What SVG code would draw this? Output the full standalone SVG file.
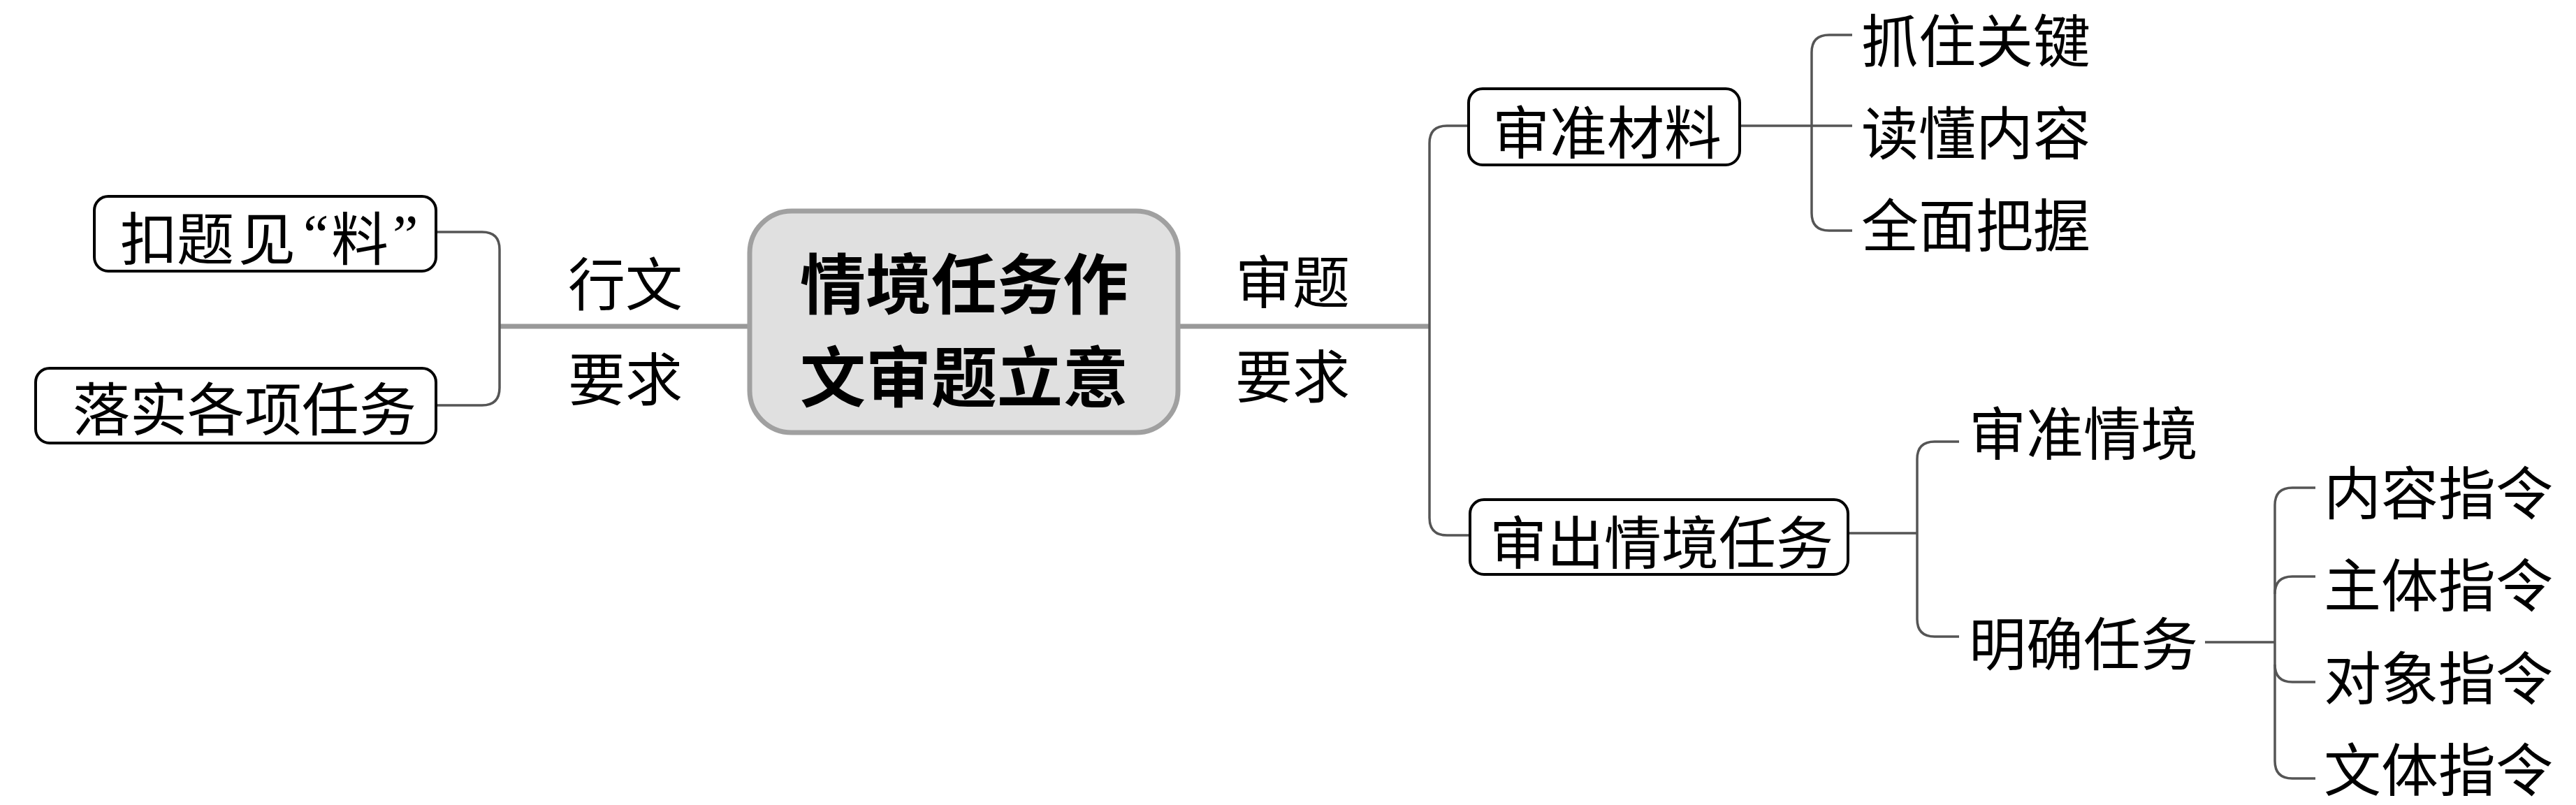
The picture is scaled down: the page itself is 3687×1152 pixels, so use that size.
<svg xmlns="http://www.w3.org/2000/svg" width="3687" height="1152" viewBox="0 0 3687 1152">
<style>
.t{font-family:"Noto Sans CJK SC","Noto Sans CJK JP",sans-serif;font-size:82px;fill:#000;dominant-baseline:central}
.m{text-anchor:middle}
.q{font-family:"Liberation Serif",serif}
.c{font-family:"Noto Sans CJK SC","Noto Sans CJK JP",sans-serif;font-size:94px;font-weight:bold;fill:#000;text-anchor:middle;dominant-baseline:central}
.box{fill:#fff;stroke:#000;stroke-width:4}
.br{fill:none;stroke:#555;stroke-width:3.5}
.main{fill:none;stroke:#999;stroke-width:7}
</style>
<rect width="3687" height="1152" fill="#fff"/>
<g id="connectors">
<path class="main" d="M715,467 H1073"/>
<path class="main" d="M1686,467 H2046"/>
<path class="br" d="M624,332 H690 Q715,332 715,357 V555 Q715,580 690,580 H624"/>
<path class="br" d="M2102,180 H2071 Q2046,180 2046,205 V741 Q2046,766 2071,766 H2104"/>
<path class="br" d="M2490,180 H2651"/>
<path class="br" d="M2651,50 H2618 Q2593,50 2593,75 V305 Q2593,330 2618,330 H2651"/>
<path class="br" d="M2645,763 H2744"/>
<path class="br" d="M2804,632 H2769 Q2744,632 2744,657 V886 Q2744,911 2769,911 H2804"/>
<path class="br" d="M3156,919 H3256"/>
<path class="br" d="M3314,698 H3281 Q3256,698 3256,723 V1089 Q3256,1114 3281,1114 H3314"/>
<path class="br" d="M3256,850 Q3256,825 3281,825 H3314"/>
<path class="br" d="M3256,951 Q3256,976 3281,976 H3314"/>
</g>
<g id="center">
<rect x="1073" y="302" width="613" height="317" rx="60" fill="#e0e0e0" stroke="#a0a0a0" stroke-width="7"/>
<text class="c" x="1380" y="401">情境任务作</text>
<text class="c" x="1380" y="534">文审题立意</text>
</g>
<g id="label-left">
<text class="t m" x="895" y="401">行文</text>
<text class="t m" x="895" y="537">要求</text>
</g>
<g id="label-right">
<text class="t m" x="1850" y="398">审题</text>
<text class="t m" x="1850" y="533">要求</text>
</g>
<g id="n-koutijianliao">
<rect class="box" x="135" y="281" width="489" height="107" rx="20"/>
<text class="t" y="336"><tspan x="172">扣</tspan><tspan x="253">题</tspan><tspan x="341">见</tspan><tspan class="q" x="434">“</tspan><tspan x="474">料</tspan><tspan class="q" x="562">”</tspan></text>
</g>
<g id="n-luoshi">
<rect class="box" x="51" y="527" width="573" height="107" rx="20"/>
<text class="t m" x="350" y="580">落实各项任务</text>
</g>
<g id="n-shenzhuncailiao">
<rect class="box" x="2102" y="127" width="388" height="109" rx="20"/>
<text class="t m" x="2300" y="184">审准材料</text>
</g>
<g id="n-zhuazhu"><text class="t" x="2664" y="53">抓住关键</text></g>
<g id="n-dudong"><text class="t" x="2664" y="185">读懂内容</text></g>
<g id="n-quanmian"><text class="t" x="2664" y="317">全面把握</text></g>
<g id="n-shenchu">
<rect class="box" x="2104" y="715" width="541" height="107" rx="20"/>
<text class="t m" x="2378" y="771">审出情境任务</text>
</g>
<g id="n-shenzhunqingjing"><text class="t" x="2818" y="615">审准情境</text></g>
<g id="n-mingque"><text class="t" x="2818" y="916">明确任务</text></g>
<g id="n-neirong"><text class="t" x="3326" y="700">内容指令</text></g>
<g id="n-zhuti"><text class="t" x="3326" y="832">主体指令</text></g>
<g id="n-duixiang"><text class="t" x="3326" y="965">对象指令</text></g>
<g id="n-wenti"><text class="t" x="3326" y="1096">文体指令</text></g>
</svg>
